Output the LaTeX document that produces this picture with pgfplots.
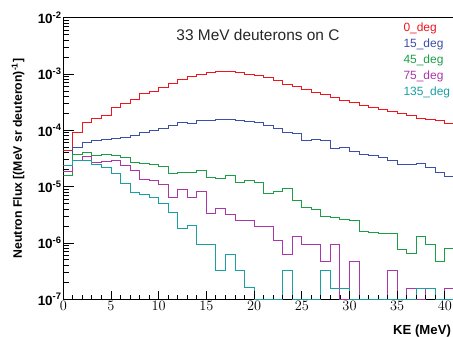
\documentclass[border=0pt]{standalone}
\usepackage{fontspec}
\setmainfont{Liberation Sans}
\usepackage{pgfplots}
\usepackage{pgfplotstable}
\pgfplotsset{compat=1.18}
\definecolor{cR}{RGB}{240,20,30}
\definecolor{cB}{RGB}{58,79,165}
\definecolor{cG}{RGB}{28,158,70}
\definecolor{cM}{RGB}{170,55,170}
\definecolor{cC}{RGB}{25,160,160}
\pgfplotstableread{
x r b g m c
0 4.34e-5 1.89e-5 1.61e-5 1.89e-5 2.42e-5
1 9.06e-5 4.91e-5 3.79e-5 2.88e-5 2.88e-5
2 1.36e-4 6.19e-5 4.00e-5 3.40e-5 2.88e-5
3 1.63e-4 6.53e-5 3.64e-5 2.70e-5 2.52e-5
4 1.87e-4 6.92e-5 3.75e-5 2.81e-5 2.20e-5
5 2.52e-4 7.30e-5 3.64e-5 2.88e-5 1.72e-5
6 3.02e-4 7.52e-5 3.36e-5 2.35e-5 1.15e-5
7 3.50e-4 8.02e-5 2.74e-5 1.92e-5 7.92e-6
8 4.42e-4 9.06e-5 2.59e-5 1.36e-5 7.39e-6
9 4.99e-4 1.00e-4 2.52e-5 1.28e-5 6.46e-6
10 5.81e-4 1.09e-4 2.25e-5 1.08e-5 5.05e-6
11 6.92e-4 1.23e-4 1.73e-5 6.49e-6 3.44e-6
12 8.15e-4 1.39e-4 1.79e-5 8.95e-6 1.78e-6
13 8.95e-4 1.33e-4 1.79e-5 6.49e-6 2.06e-6
14 1.00e-3 1.52e-4 1.92e-5 8.28e-6 9.55e-7
15 1.07e-3 1.52e-4 1.46e-5 3.37e-6 9.55e-7
16 1.10e-3 1.54e-4 1.38e-5 4.08e-6 3.21e-7
17 1.12e-3 1.57e-4 1.59e-5 3.22e-6 6.30e-7
18 1.05e-3 1.48e-4 1.20e-5 2.55e-6 3.21e-7
19 1.00e-3 1.46e-4 1.27e-5 2.55e-6 1.60e-7
20 9.33e-4 1.36e-4 1.17e-5 1.94e-6 1e-7
21 8.73e-4 1.24e-4 7.60e-6 1.94e-6 1e-7
22 7.60e-4 1.09e-4 8.36e-6 1.09e-6 1e-7
23 6.64e-4 9.33e-5 9.25e-6 6.35e-7 3.21e-7
24 6.12e-4 8.95e-5 5.78e-6 1.29e-6 1e-7
25 5.26e-4 6.73e-5 4.34e-6 9.55e-7 1e-7
26 4.73e-4 6.92e-5 3.95e-6 9.55e-7 1e-7
27 4.36e-4 6.73e-5 3.01e-6 4.64e-7 3.21e-7
28 3.85e-4 4.79e-5 2.85e-6 9.55e-7 1.56e-7
29 3.45e-4 4.99e-5 2.66e-6 1e-7 1.56e-7
30 3.09e-4 4.17e-5 2.55e-6 4.77e-7 1e-7
31 2.81e-4 3.69e-5 1.63e-6 1e-7 1e-7
32 2.52e-4 3.60e-5 1.56e-6 1e-7 1e-7
33 2.39e-4 3.31e-5 1.48e-6 1e-7 1e-7
34 2.20e-4 2.96e-5 1.48e-6 3.21e-7 1e-7
35 2.00e-4 2.49e-5 7.69e-7 1e-7 1e-7
36 1.85e-4 2.49e-5 6.53e-7 1.56e-7 1e-7
37 1.61e-4 2.55e-5 1.29e-6 1e-7 1.56e-7
38 1.57e-4 2.20e-5 9.55e-7 1.56e-7 1.56e-7
39 1.51e-4 1.82e-5 4.77e-7 1e-7 1e-7
40 1.33e-4 1.54e-5 8.02e-7 1.56e-7 1e-7
41 1.33e-4 1.54e-5 8.02e-7 1.56e-7 1e-7
42 1.33e-4 1.54e-5 8.02e-7 1.56e-7 1e-7
}\flux
\begin{document}
\begin{tikzpicture}
\begin{axis}[
  at={(63.3bp,37.7bp)}, anchor=south west,
  scale only axis, width=400.7bp, height=281.6bp,
  xmin=0, xmax=42, ymin=1e-7, ymax=1e-2,
  ymode=log,
  tick align=inside, xtick pos=left, ytick pos=left,
  tick style={black, line width=0.9pt},
  axis line style={black, line width=1pt},
  xtick=\empty,
  ytick={1e-7,1e-6,1e-5,1e-4,1e-3,1e-2},
  yticklabels={10\textsuperscript{-7},10\textsuperscript{-6},10\textsuperscript{-5},10\textsuperscript{-4},10\textsuperscript{-3},10\textsuperscript{-2}},
  minor ytick={2e-7,3e-7,4e-7,5e-7,6e-7,7e-7,8e-7,9e-7,2e-6,3e-6,4e-6,5e-6,6e-6,7e-6,8e-6,9e-6,2e-5,3e-5,4e-5,5e-5,6e-5,7e-5,8e-5,9e-5,2e-4,3e-4,4e-4,5e-4,6e-4,7e-4,8e-4,9e-4,2e-3,3e-3,4e-3,5e-3,6e-3,7e-3,8e-3,9e-3},
  major tick length=11bp, minor tick length=5.8bp,
  yticklabel style={font=\bfseries\fontsize{13.5}{13.5}\selectfont, inner xsep=1.5bp},
]
\addplot[cR, const plot mark left, line width=1pt, mark=none] table[x=x,y=r]{\flux};
\addplot[cB, const plot mark left, line width=1pt, mark=none] table[x=x,y=b]{\flux};
\addplot[cG, const plot mark left, line width=1pt, mark=none] table[x=x,y=g]{\flux};
\addplot[cM, const plot mark left, line width=1pt, mark=none] table[x=x,y=m]{\flux};
\addplot[cC, const plot mark left, line width=1pt, mark=none] table[x=x,y=c]{\flux};
\end{axis}
\begin{axis}[
  at={(63.3bp,37.7bp)}, anchor=south west,
  scale only axis, width=400.7bp, height=281.6bp,
  xmin=0, xmax=42, ymin=0, ymax=1,
  tick align=inside, xtick pos=left, ytick pos=left,
  tick style={black, line width=0.9pt},
  axis line style={draw=none},
  ytick=\empty,
  xtick={0,5,...,40}, minor x tick num=4,
  major tick length=8bp, minor tick length=4bp,
  xticklabel style={font=\bfseries\fontsize{13.5}{13.5}\selectfont, inner ysep=2bp},
]
\end{axis}
\node[font=\fontsize{15.5}{15.5}\selectfont, text=black!85] at (258bp,302bp) {33 MeV deuterons on C};
\node[anchor=west, text=cR, font=\fontsize{12}{12}\selectfont] at (400bp,309bp) {0\_deg};
\node[anchor=west, text=cB, font=\fontsize{12}{12}\selectfont] at (400bp,293bp) {15\_deg};
\node[anchor=west, text=cG, font=\fontsize{12}{12}\selectfont] at (400bp,277bp) {45\_deg};
\node[anchor=west, text=cM, font=\fontsize{12}{12}\selectfont] at (400bp,261bp) {75\_deg};
\node[anchor=west, text=cC, font=\fontsize{12}{12}\selectfont] at (400bp,245bp) {135\_deg};
\node[rotate=90, font=\bfseries\fontsize{12.3}{12.3}\selectfont] at (18bp,178.5bp) {Neutron Flux [(MeV sr deuteron)\textsuperscript{-1}]};
\node[anchor=base west, inner sep=0pt, font=\bfseries\fontsize{13.2}{13.2}\selectfont] at (393bp,2.5bp) {KE (MeV)};
\pgfresetboundingbox
\path[use as bounding box] (0,0) rectangle (453bp,337bp);
\end{tikzpicture}
\end{document}
